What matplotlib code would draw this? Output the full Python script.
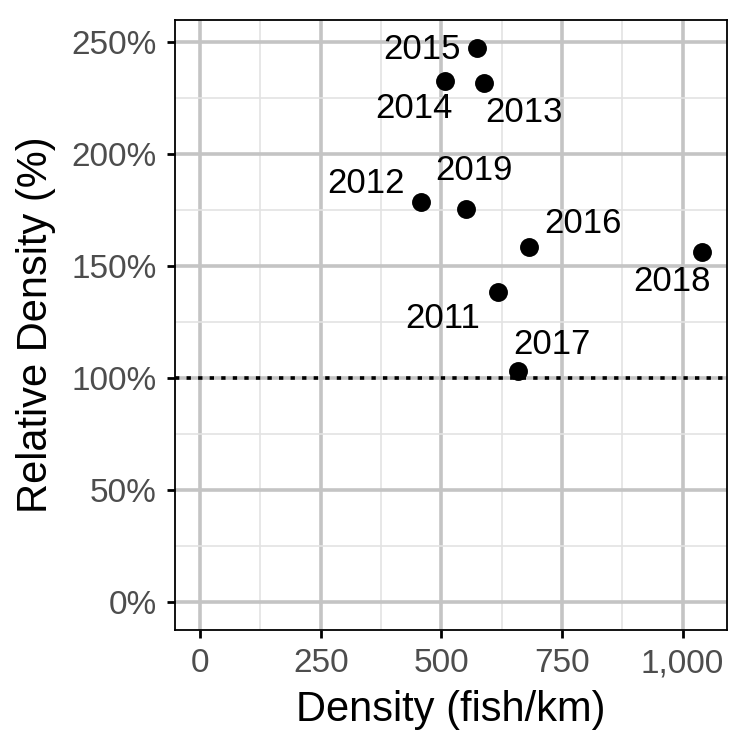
import numpy as np
import matplotlib
matplotlib.use("Agg")
import matplotlib.pyplot as plt
from matplotlib.ticker import FuncFormatter, MultipleLocator

plt.rcParams['font.family'] = ['Liberation Sans', 'DejaVu Sans']

# values
years = ["2011", "2012", "2013", "2014", "2015", "2016", "2017", "2018", "2019"]
density = [618, 458, 588, 507, 574, 681, 658, 1040, 552]
rel_density = [138.4, 178.5, 231.4, 232.7, 247.3, 158.5, 103.3, 156.4, 175.6]

# label offsets in pixels (repel-style placement)
label_dx = [-56, -55, 40, -31, -55, 54, 34, -30, 8]
label_dy = [-27, 19, -29, -28, -2, 23, 26, -30, 38]

fig = plt.figure(figsize=(7.5, 7.5), dpi=100)
ax = fig.add_axes([0.2333, 0.16, 0.736, 0.8133])

ax.set_xlim(-52, 1092)
ax.set_ylim(-12.4, 259.7)

ax.xaxis.set_major_locator(MultipleLocator(250))
ax.xaxis.set_minor_locator(MultipleLocator(125))
ax.yaxis.set_major_locator(MultipleLocator(50))
ax.yaxis.set_minor_locator(MultipleLocator(25))
ax.xaxis.set_major_formatter(FuncFormatter(lambda v, p: f"{v:,.0f}"))
ax.yaxis.set_major_formatter(FuncFormatter(lambda v, p: f"{v:.0f}%"))

ax.grid(which='major', color='#C4C4C4', linewidth=2.6)
ax.grid(which='minor', color='#E3E3E3', linewidth=1.2)
ax.set_axisbelow(True)

ax.axhline(100, color='black', linewidth=2.6, linestyle=(0, (1.2, 2.0)), zorder=2)

ax.scatter(density, rel_density, s=185, color='black', zorder=3, linewidths=0)

for yr, x, y, dx, dy in zip(years, density, rel_density, label_dx, label_dy):
    ax.annotate(yr, (x, y), xytext=(dx, dy), textcoords='offset pixels',
                ha='center', va='center', fontsize=25, color='black', zorder=4)

for s in ax.spines.values():
    s.set_color('black')
    s.set_linewidth(1.3)

ax.tick_params(which='major', length=6, width=2, color='black',
               labelsize=24, labelcolor='#4D4D4D', pad=7)
ax.tick_params(which='minor', length=0)

ax.set_xlabel("Density (fish/km)", fontsize=30, labelpad=8)
ax.set_ylabel("Relative Density (%)", fontsize=30, labelpad=11)

fig.savefig("out.png", dpi=100)
